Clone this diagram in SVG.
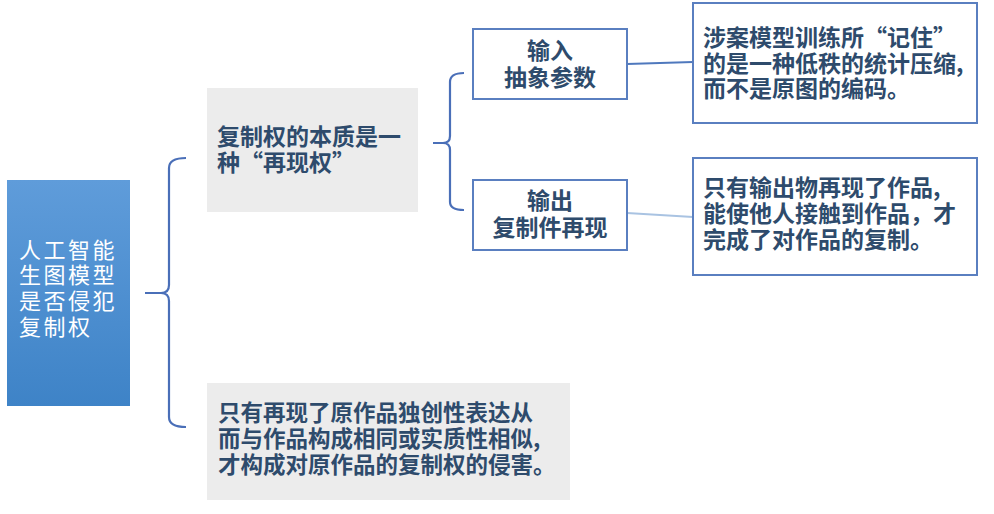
<svg xmlns="http://www.w3.org/2000/svg" width="994" height="514" viewBox="0 0 994 514">
<defs>
<linearGradient id="blueGrad" x1="0" y1="0" x2="0" y2="1">
<stop offset="0" stop-color="#5f9cda"/>
<stop offset="1" stop-color="#3e83c7"/>
</linearGradient>
<style>
.t{font-family:"Noto Sans CJK SC","Noto Sans",sans-serif;font-size:23px;font-weight:bold;fill:#2e4b6c}
.s{font-size:22.5px}
.w{font-family:"Noto Sans CJK SC","Noto Sans",sans-serif;font-size:22px;fill:#ffffff;letter-spacing:2.5px}
.gray{fill:#ececec;stroke:none}
.box{fill:#ffffff;stroke:#5a7fc0;stroke-width:2}
.brace{fill:none;stroke:#4a6fb8;stroke-width:2.2}
.c1{fill:none;stroke:#4f78bd;stroke-width:2}
.c2{fill:none;stroke:#a9c3e2;stroke-width:2}
</style>
</defs>
<rect width="994" height="514" fill="#ffffff"/>
<g id="connectors">
<path class="brace" d="M186,158 Q169,158 169,168 L169,285 Q169,293 161,293 L145,293 M161,293 Q169,293 169,301 L169,417 Q169,427 186,427"/>
<path class="brace" d="M464,73 Q450,73 450,82 L450,136 Q450,143 443,143 L433,143 M443,143 Q450,143 450,150 L450,202 Q450,210 464,210"/>
<path class="c1" d="M627,64 L693,62"/>
<path class="c2" d="M627,213 L693,217"/>
</g>
<g id="root">
<rect x="7" y="180" width="123" height="226" fill="url(#blueGrad)"/>
<text class="w" x="19" y="258">人工智能</text>
<text class="w" x="19" y="283">生图模型</text>
<text class="w" x="19" y="309">是否侵犯</text>
<text class="w" x="19" y="335">复制权</text>
</g>
<g id="essence">
<rect class="gray" x="207" y="88" width="211" height="124"/>
<text class="t" x="217" y="145">复制权的本质是一</text>
<text class="t" x="217" y="171">种“再现权”</text>
</g>
<g id="input">
<rect class="box" x="473" y="29" width="154" height="70"/>
<text class="t" x="550" y="59" text-anchor="middle">输入</text>
<text class="t" x="550" y="86" text-anchor="middle">抽象参数</text>
</g>
<g id="output">
<rect class="box" x="473" y="180" width="154" height="70"/>
<text class="t" x="550" y="209" text-anchor="middle">输出</text>
<text class="t" x="550" y="236" text-anchor="middle">复制件再现</text>
</g>
<g id="note-input">
<rect class="box" x="693" y="3" width="284" height="120"/>
<text class="t" x="703" y="46">涉案模型训练所“记住”</text>
<text class="t" x="703" y="72">的是一种低秩的统计压缩,</text>
<text class="t" x="703" y="97">而不是原图的编码。</text>
</g>
<g id="note-output">
<rect class="box" x="693" y="158" width="284" height="117"/>
<text class="t" x="703" y="196">只有输出物再现了作品,</text>
<text class="t" x="703" y="222">能使他人接触到作品，才</text>
<text class="t" x="703" y="248">完成了对作品的复制。</text>
</g>
<g id="conclusion">
<rect class="gray" x="207" y="383" width="363" height="117"/>
<text class="t s" x="218" y="421">只有再现了原作品独创性表达从</text>
<text class="t s" x="218" y="447">而与作品构成相同或实质性相似,</text>
<text class="t s" x="218" y="473">才构成对原作品的复制权的侵害。</text>
</g>
</svg>
